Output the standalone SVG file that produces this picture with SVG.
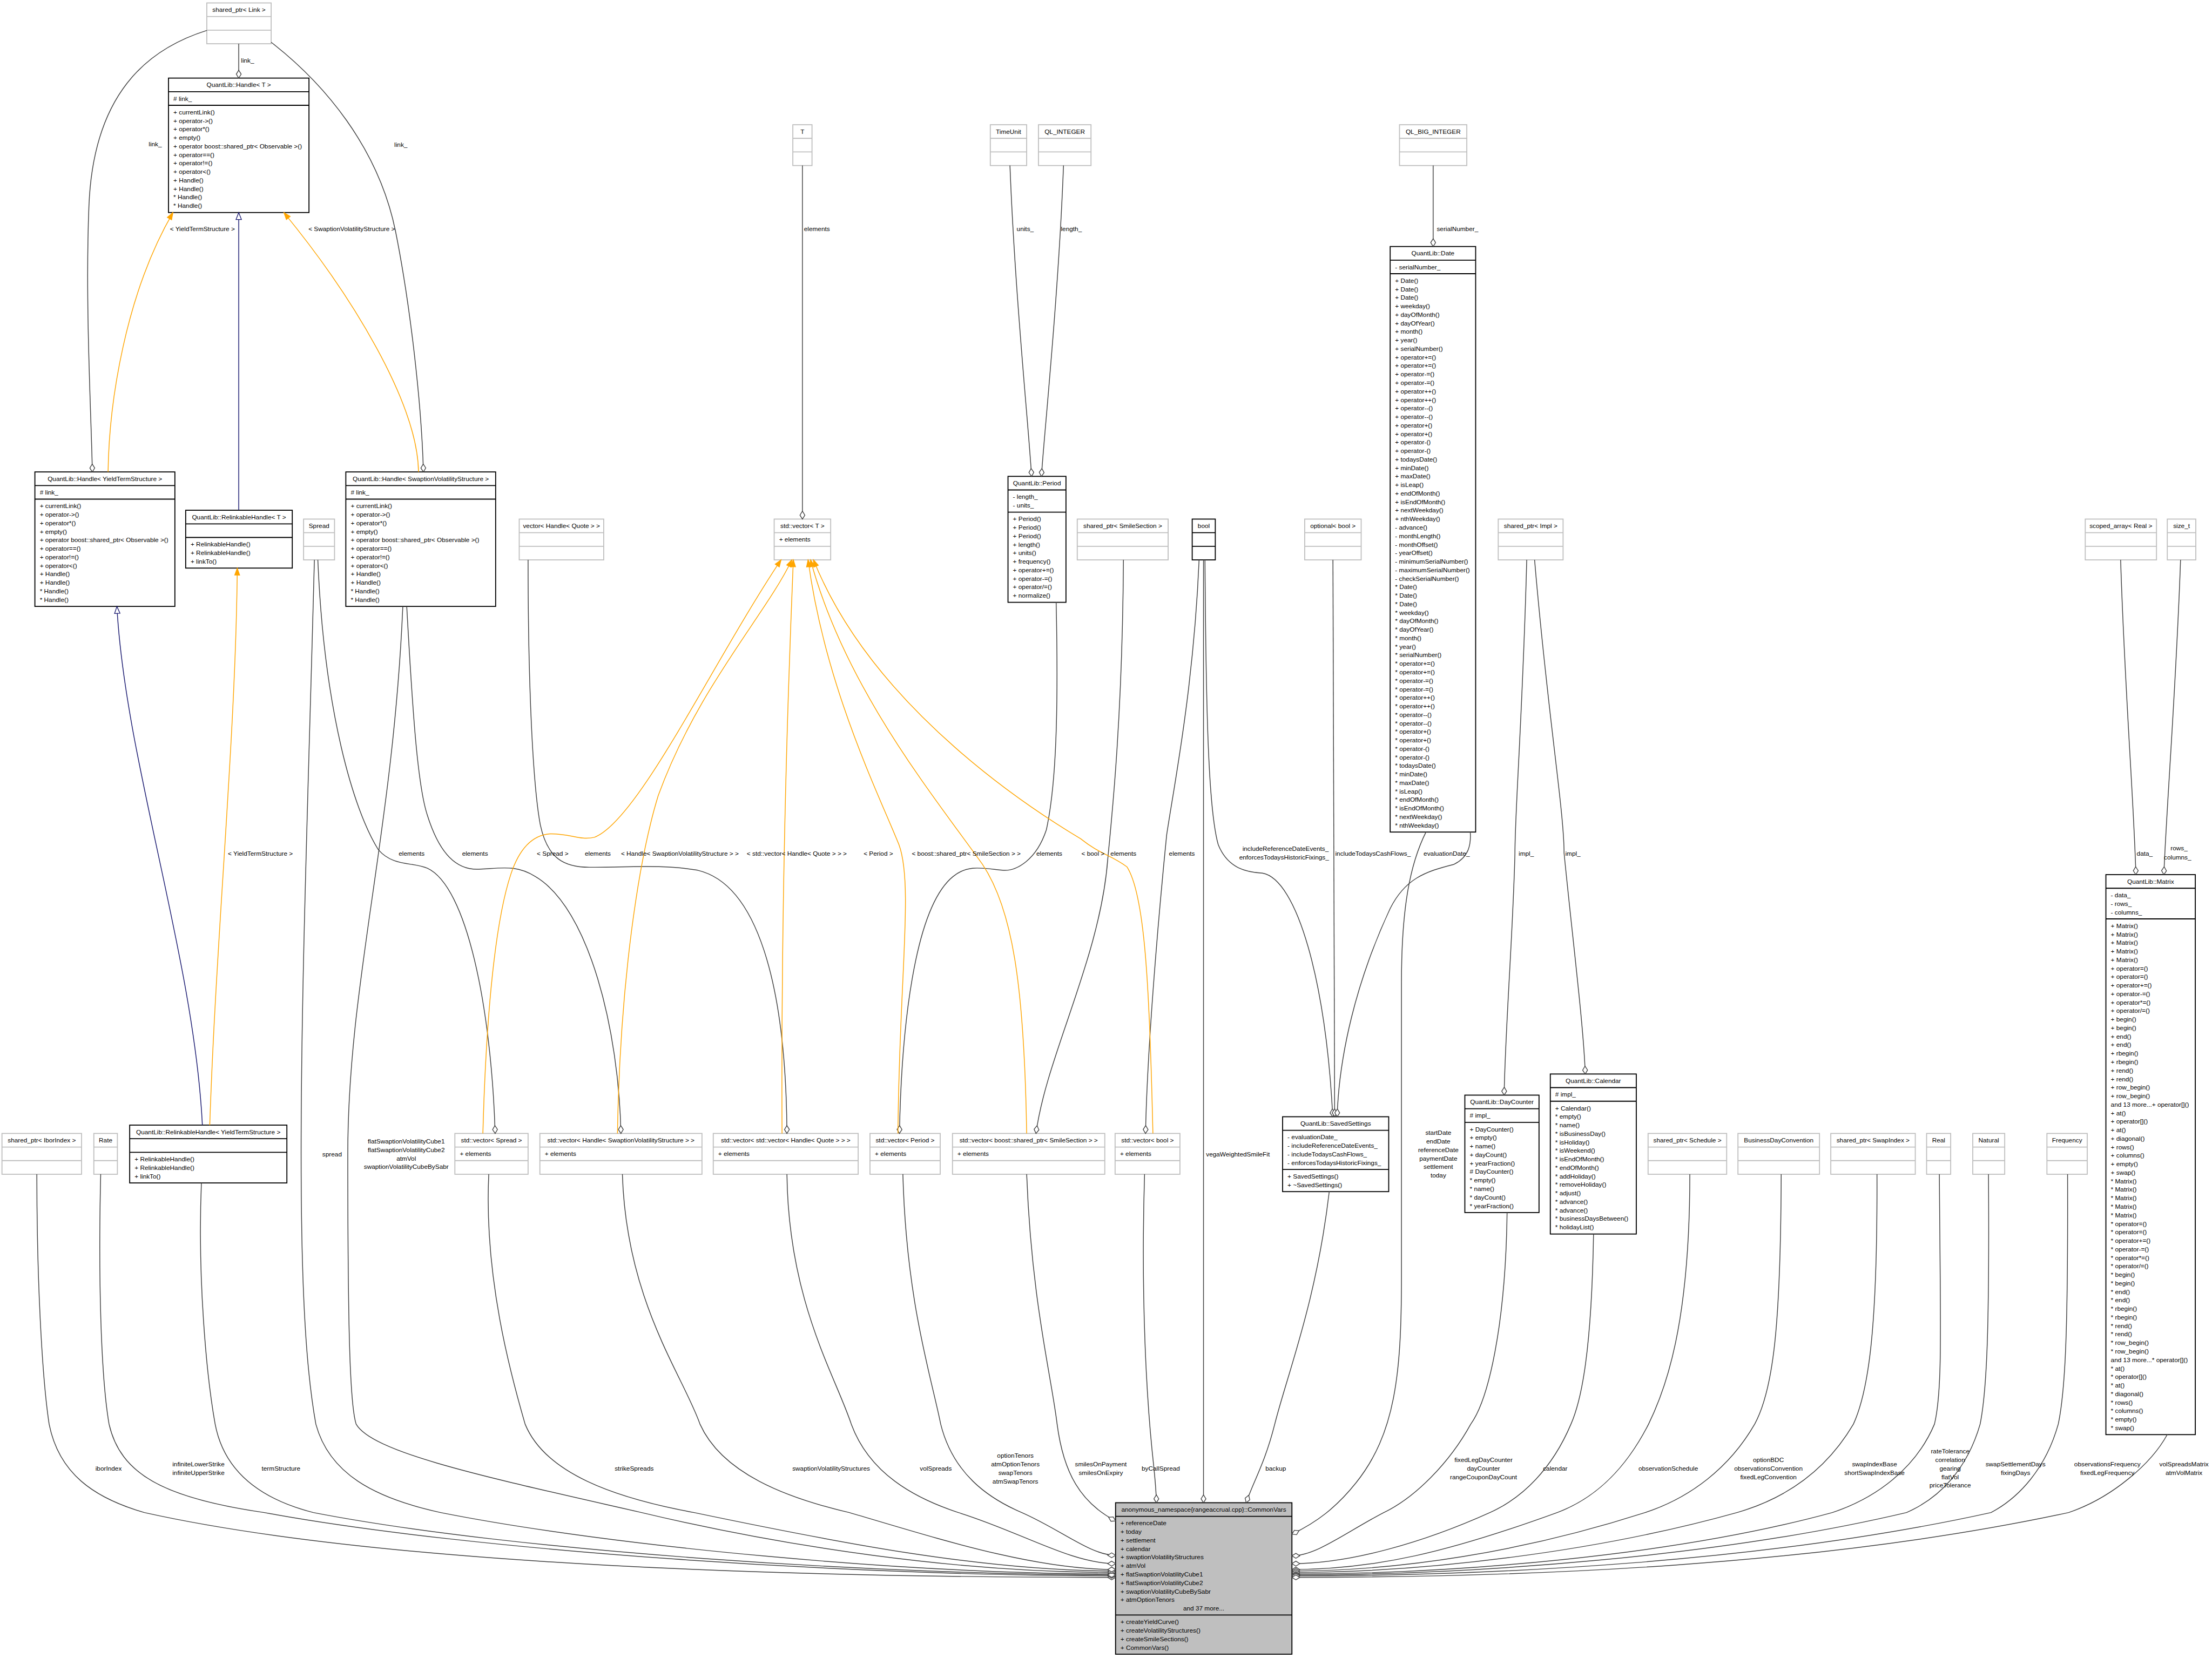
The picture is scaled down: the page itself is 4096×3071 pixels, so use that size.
<svg xmlns="http://www.w3.org/2000/svg" width="4096" height="3071" viewBox="0 0 4096 3071">
<style>
text{font-family:"Liberation Sans",Arial,sans-serif;font-size:13px;fill:#000}
.c{text-anchor:middle}
.nd{fill:#fff;stroke:#000;stroke-width:2}
.ng{fill:#fff;stroke:#bfbfbf;stroke-width:2}
.nm{fill:#bfbfbf;stroke:#000;stroke-width:2}
.sd{stroke:#000;stroke-width:2;fill:none}
.sg{stroke:#bfbfbf;stroke-width:2;fill:none}
.e{fill:none;stroke:#404040;stroke-width:1.6}
.o{fill:none;stroke:#ffa500;stroke-width:1.6}
.b{fill:none;stroke:#191970;stroke-width:1.6}
</style>
<defs>
<marker id="dia" markerUnits="userSpaceOnUse" markerWidth="20" markerHeight="14" viewBox="-18 -7 20 14" refX="0" refY="0" orient="auto" overflow="visible"><path d="M0,0 L-8,-5 L-16,0 L-8,5 Z" fill="#fff" stroke="#404040" stroke-width="1.5"/></marker>
<marker id="arr" markerUnits="userSpaceOnUse" markerWidth="18" markerHeight="14" viewBox="-16 -7 18 14" refX="0" refY="0" orient="auto" overflow="visible"><path d="M0,0 L-14,-5 L-14,5 Z" fill="#ffa500" stroke="#ffa500" stroke-width="1.5"/></marker>
<marker id="tri" markerUnits="userSpaceOnUse" markerWidth="18" markerHeight="14" viewBox="-16 -7 18 14" refX="0" refY="0" orient="auto" overflow="visible"><path d="M0,0 L-14,-5.5 L-14,5.5 Z" fill="#fff" stroke="#191970" stroke-width="1.5"/></marker>
</defs>
<rect width="4096" height="3071" fill="#fff"/>
<g transform="scale(0.909614)">
<g id="nodes">
<g id="n_link"><rect class="ng" x="421" y="6" width="131" height="83.1"/><path class="sg" d="M421,33.7h131M421,61.4h131"/><text class="c" x="486.5" y="24.5">shared_ptr&lt; Link &gt;</text></g>
<g id="n_handleT"><rect class="nd" x="343" y="159" width="286" height="273.8"/><path class="sd" d="M343,186.7h286M343,214.4h286"/><text class="c" x="486" y="177.5">QuantLib::Handle&lt; T &gt;</text><text x="353" y="205.2"># link_</text>
<text x="353" y="232.9"><tspan x="353">+ currentLink()</tspan><tspan x="353" dy="17.33">+ operator-&gt;()</tspan><tspan x="353" dy="17.33">+ operator*()</tspan><tspan x="353" dy="17.33">+ empty()</tspan><tspan x="353" dy="17.33">+ operator boost::shared_ptr&lt; Observable &gt;()</tspan><tspan x="353" dy="17.33">+ operator==()</tspan><tspan x="353" dy="17.33">+ operator!=()</tspan><tspan x="353" dy="17.33">+ operator&lt;()</tspan><tspan x="353" dy="17.33">+ Handle()</tspan><tspan x="353" dy="17.33">+ Handle()</tspan><tspan x="353" dy="17.33">* Handle()</tspan><tspan x="353" dy="17.33">* Handle()</tspan></text></g>
<g id="n_handleYTS"><rect class="nd" x="71" y="961" width="285" height="273.8"/><path class="sd" d="M71,988.7h285M71,1016.4h285"/><text class="c" x="213.5" y="979.5">QuantLib::Handle&lt; YieldTermStructure &gt;</text><text x="81" y="1007.2"># link_</text>
<text x="81" y="1034.9"><tspan x="81">+ currentLink()</tspan><tspan x="81" dy="17.33">+ operator-&gt;()</tspan><tspan x="81" dy="17.33">+ operator*()</tspan><tspan x="81" dy="17.33">+ empty()</tspan><tspan x="81" dy="17.33">+ operator boost::shared_ptr&lt; Observable &gt;()</tspan><tspan x="81" dy="17.33">+ operator==()</tspan><tspan x="81" dy="17.33">+ operator!=()</tspan><tspan x="81" dy="17.33">+ operator&lt;()</tspan><tspan x="81" dy="17.33">+ Handle()</tspan><tspan x="81" dy="17.33">+ Handle()</tspan><tspan x="81" dy="17.33">* Handle()</tspan><tspan x="81" dy="17.33">* Handle()</tspan></text></g>
<g id="n_relinkT"><rect class="nd" x="378" y="1039" width="217" height="117.8"/><path class="sd" d="M378,1066.7h217M378,1094.4h217"/><text class="c" x="486.5" y="1057.5">QuantLib::RelinkableHandle&lt; T &gt;</text>
<text x="388" y="1112.9"><tspan x="388">+ RelinkableHandle()</tspan><tspan x="388" dy="17.33">+ RelinkableHandle()</tspan><tspan x="388" dy="17.33">+ linkTo()</tspan></text></g>
<g id="n_spread"><rect class="ng" x="618" y="1057" width="63" height="83.1"/><path class="sg" d="M618,1084.7h63M618,1112.4h63"/><text class="c" x="649.5" y="1075.5">Spread</text></g>
<g id="n_handleSVS"><rect class="nd" x="704" y="961" width="305" height="273.8"/><path class="sd" d="M704,988.7h305M704,1016.4h305"/><text class="c" x="856.5" y="979.5">QuantLib::Handle&lt; SwaptionVolatilityStructure &gt;</text><text x="714" y="1007.2"># link_</text>
<text x="714" y="1034.9"><tspan x="714">+ currentLink()</tspan><tspan x="714" dy="17.33">+ operator-&gt;()</tspan><tspan x="714" dy="17.33">+ operator*()</tspan><tspan x="714" dy="17.33">+ empty()</tspan><tspan x="714" dy="17.33">+ operator boost::shared_ptr&lt; Observable &gt;()</tspan><tspan x="714" dy="17.33">+ operator==()</tspan><tspan x="714" dy="17.33">+ operator!=()</tspan><tspan x="714" dy="17.33">+ operator&lt;()</tspan><tspan x="714" dy="17.33">+ Handle()</tspan><tspan x="714" dy="17.33">+ Handle()</tspan><tspan x="714" dy="17.33">* Handle()</tspan><tspan x="714" dy="17.33">* Handle()</tspan></text></g>
<g id="n_T"><rect class="ng" x="1614" y="254" width="39" height="83.1"/><path class="sg" d="M1614,281.7h39M1614,309.4h39"/><text class="c" x="1633.5" y="272.5">T</text></g>
<g id="n_timeunit"><rect class="ng" x="2016" y="254" width="74" height="83.1"/><path class="sg" d="M2016,281.7h74M2016,309.4h74"/><text class="c" x="2053" y="272.5">TimeUnit</text></g>
<g id="n_qlint"><rect class="ng" x="2114" y="254" width="107" height="83.1"/><path class="sg" d="M2114,281.7h107M2114,309.4h107"/><text class="c" x="2167.5" y="272.5">QL_INTEGER</text></g>
<g id="n_qlbig"><rect class="ng" x="2849" y="254" width="137" height="83.1"/><path class="sg" d="M2849,281.7h137M2849,309.4h137"/><text class="c" x="2917.5" y="272.5">QL_BIG_INTEGER</text></g>
<g id="n_vecT"><rect class="ng" x="1576" y="1057" width="115" height="83.1"/><path class="sg" d="M1576,1084.7h115M1576,1112.4h115"/><text class="c" x="1633.5" y="1075.5">std::vector&lt; T &gt;</text><text x="1586" y="1103.2">+ elements</text></g>
<g id="n_period"><rect class="nd" x="2052" y="970" width="118" height="256.5"/><path class="sd" d="M2052,997.7h118M2052,1042.8h118"/><text class="c" x="2111" y="988.5">QuantLib::Period</text>
<text x="2062" y="1016.2"><tspan x="2062">- length_</tspan><tspan x="2062" dy="17.33">- units_</tspan></text>
<text x="2062" y="1061.3"><tspan x="2062">+ Period()</tspan><tspan x="2062" dy="17.33">+ Period()</tspan><tspan x="2062" dy="17.33">+ Period()</tspan><tspan x="2062" dy="17.33">+ length()</tspan><tspan x="2062" dy="17.33">+ units()</tspan><tspan x="2062" dy="17.33">+ frequency()</tspan><tspan x="2062" dy="17.33">+ operator+=()</tspan><tspan x="2062" dy="17.33">+ operator-=()</tspan><tspan x="2062" dy="17.33">+ operator/=()</tspan><tspan x="2062" dy="17.33">+ normalize()</tspan></text></g>
<g id="n_vecHQ"><rect class="ng" x="1057" y="1057" width="172" height="83.1"/><path class="sg" d="M1057,1084.7h172M1057,1112.4h172"/><text class="c" x="1143" y="1075.5">vector&lt; Handle&lt; Quote &gt; &gt;</text></g>
<g id="n_smile"><rect class="ng" x="2193" y="1057" width="185" height="83.1"/><path class="sg" d="M2193,1084.7h185M2193,1112.4h185"/><text class="c" x="2285.5" y="1075.5">shared_ptr&lt; SmileSection &gt;</text></g>
<g id="n_bool"><rect class="nd" x="2427" y="1057" width="47" height="83.1"/><path class="sd" d="M2427,1084.7h47M2427,1112.4h47"/><text class="c" x="2450.5" y="1075.5">bool</text></g>
<g id="n_optbool"><rect class="ng" x="2656" y="1057" width="115" height="83.1"/><path class="sg" d="M2656,1084.7h115M2656,1112.4h115"/><text class="c" x="2713.5" y="1075.5">optional&lt; bool &gt;</text></g>
<g id="n_date"><rect class="nd" x="2830" y="502" width="174" height="1192.3"/><path class="sd" d="M2830,529.7h174M2830,557.4h174"/><text class="c" x="2917" y="520.5">QuantLib::Date</text><text x="2840" y="548.2">- serialNumber_</text>
<text x="2840" y="575.9"><tspan x="2840">+ Date()</tspan><tspan x="2840" dy="17.33">+ Date()</tspan><tspan x="2840" dy="17.33">+ Date()</tspan><tspan x="2840" dy="17.33">+ weekday()</tspan><tspan x="2840" dy="17.33">+ dayOfMonth()</tspan><tspan x="2840" dy="17.33">+ dayOfYear()</tspan><tspan x="2840" dy="17.33">+ month()</tspan><tspan x="2840" dy="17.33">+ year()</tspan><tspan x="2840" dy="17.33">+ serialNumber()</tspan><tspan x="2840" dy="17.33">+ operator+=()</tspan><tspan x="2840" dy="17.33">+ operator+=()</tspan><tspan x="2840" dy="17.33">+ operator-=()</tspan><tspan x="2840" dy="17.33">+ operator-=()</tspan><tspan x="2840" dy="17.33">+ operator++()</tspan><tspan x="2840" dy="17.33">+ operator++()</tspan><tspan x="2840" dy="17.33">+ operator--()</tspan><tspan x="2840" dy="17.33">+ operator--()</tspan><tspan x="2840" dy="17.33">+ operator+()</tspan><tspan x="2840" dy="17.33">+ operator+()</tspan><tspan x="2840" dy="17.33">+ operator-()</tspan><tspan x="2840" dy="17.33">+ operator-()</tspan><tspan x="2840" dy="17.33">+ todaysDate()</tspan><tspan x="2840" dy="17.33">+ minDate()</tspan><tspan x="2840" dy="17.33">+ maxDate()</tspan><tspan x="2840" dy="17.33">+ isLeap()</tspan><tspan x="2840" dy="17.33">+ endOfMonth()</tspan><tspan x="2840" dy="17.33">+ isEndOfMonth()</tspan><tspan x="2840" dy="17.33">+ nextWeekday()</tspan><tspan x="2840" dy="17.33">+ nthWeekday()</tspan><tspan x="2840" dy="17.33">- advance()</tspan><tspan x="2840" dy="17.33">- monthLength()</tspan><tspan x="2840" dy="17.33">- monthOffset()</tspan><tspan x="2840" dy="17.33">- yearOffset()</tspan><tspan x="2840" dy="17.33">- minimumSerialNumber()</tspan><tspan x="2840" dy="17.33">- maximumSerialNumber()</tspan><tspan x="2840" dy="17.33">- checkSerialNumber()</tspan><tspan x="2840" dy="17.33">* Date()</tspan><tspan x="2840" dy="17.33">* Date()</tspan><tspan x="2840" dy="17.33">* Date()</tspan><tspan x="2840" dy="17.33">* weekday()</tspan><tspan x="2840" dy="17.33">* dayOfMonth()</tspan><tspan x="2840" dy="17.33">* dayOfYear()</tspan><tspan x="2840" dy="17.33">* month()</tspan><tspan x="2840" dy="17.33">* year()</tspan><tspan x="2840" dy="17.33">* serialNumber()</tspan><tspan x="2840" dy="17.33">* operator+=()</tspan><tspan x="2840" dy="17.33">* operator+=()</tspan><tspan x="2840" dy="17.33">* operator-=()</tspan><tspan x="2840" dy="17.33">* operator-=()</tspan><tspan x="2840" dy="17.33">* operator++()</tspan><tspan x="2840" dy="17.33">* operator++()</tspan><tspan x="2840" dy="17.33">* operator--()</tspan><tspan x="2840" dy="17.33">* operator--()</tspan><tspan x="2840" dy="17.33">* operator+()</tspan><tspan x="2840" dy="17.33">* operator+()</tspan><tspan x="2840" dy="17.33">* operator-()</tspan><tspan x="2840" dy="17.33">* operator-()</tspan><tspan x="2840" dy="17.33">* todaysDate()</tspan><tspan x="2840" dy="17.33">* minDate()</tspan><tspan x="2840" dy="17.33">* maxDate()</tspan><tspan x="2840" dy="17.33">* isLeap()</tspan><tspan x="2840" dy="17.33">* endOfMonth()</tspan><tspan x="2840" dy="17.33">* isEndOfMonth()</tspan><tspan x="2840" dy="17.33">* nextWeekday()</tspan><tspan x="2840" dy="17.33">* nthWeekday()</tspan></text></g>
<g id="n_impl"><rect class="ng" x="3050" y="1057" width="132" height="83.1"/><path class="sg" d="M3050,1084.7h132M3050,1112.4h132"/><text class="c" x="3116" y="1075.5">shared_ptr&lt; Impl &gt;</text></g>
<g id="n_scoped"><rect class="ng" x="4245" y="1057" width="145" height="83.1"/><path class="sg" d="M4245,1084.7h145M4245,1112.4h145"/><text class="c" x="4317.5" y="1075.5">scoped_array&lt; Real &gt;</text></g>
<g id="n_sizet"><rect class="ng" x="4412" y="1057" width="58" height="83.1"/><path class="sg" d="M4412,1084.7h58M4412,1112.4h58"/><text class="c" x="4441" y="1075.5">size_t</text></g>
<g id="n_matrix"><rect class="nd" x="4287" y="1781" width="182" height="1140.3"/><path class="sd" d="M4287,1808.7h182M4287,1871.1h182"/><text class="c" x="4378" y="1799.5">QuantLib::Matrix</text>
<text x="4297" y="1827.2"><tspan x="4297">- data_</tspan><tspan x="4297" dy="17.33">- rows_</tspan><tspan x="4297" dy="17.33">- columns_</tspan></text>
<text x="4297" y="1889.6"><tspan x="4297">+ Matrix()</tspan><tspan x="4297" dy="17.33">+ Matrix()</tspan><tspan x="4297" dy="17.33">+ Matrix()</tspan><tspan x="4297" dy="17.33">+ Matrix()</tspan><tspan x="4297" dy="17.33">+ Matrix()</tspan><tspan x="4297" dy="17.33">+ operator=()</tspan><tspan x="4297" dy="17.33">+ operator=()</tspan><tspan x="4297" dy="17.33">+ operator+=()</tspan><tspan x="4297" dy="17.33">+ operator-=()</tspan><tspan x="4297" dy="17.33">+ operator*=()</tspan><tspan x="4297" dy="17.33">+ operator/=()</tspan><tspan x="4297" dy="17.33">+ begin()</tspan><tspan x="4297" dy="17.33">+ begin()</tspan><tspan x="4297" dy="17.33">+ end()</tspan><tspan x="4297" dy="17.33">+ end()</tspan><tspan x="4297" dy="17.33">+ rbegin()</tspan><tspan x="4297" dy="17.33">+ rbegin()</tspan><tspan x="4297" dy="17.33">+ rend()</tspan><tspan x="4297" dy="17.33">+ rend()</tspan><tspan x="4297" dy="17.33">+ row_begin()</tspan><tspan x="4297" dy="17.33">+ row_begin()</tspan><tspan x="4297" dy="17.33">and 13 more...+ operator[]()</tspan><tspan x="4297" dy="17.33">+ at()</tspan><tspan x="4297" dy="17.33">+ operator[]()</tspan><tspan x="4297" dy="17.33">+ at()</tspan><tspan x="4297" dy="17.33">+ diagonal()</tspan><tspan x="4297" dy="17.33">+ rows()</tspan><tspan x="4297" dy="17.33">+ columns()</tspan><tspan x="4297" dy="17.33">+ empty()</tspan><tspan x="4297" dy="17.33">+ swap()</tspan><tspan x="4297" dy="17.33">* Matrix()</tspan><tspan x="4297" dy="17.33">* Matrix()</tspan><tspan x="4297" dy="17.33">* Matrix()</tspan><tspan x="4297" dy="17.33">* Matrix()</tspan><tspan x="4297" dy="17.33">* Matrix()</tspan><tspan x="4297" dy="17.33">* operator=()</tspan><tspan x="4297" dy="17.33">* operator=()</tspan><tspan x="4297" dy="17.33">* operator+=()</tspan><tspan x="4297" dy="17.33">* operator-=()</tspan><tspan x="4297" dy="17.33">* operator*=()</tspan><tspan x="4297" dy="17.33">* operator/=()</tspan><tspan x="4297" dy="17.33">* begin()</tspan><tspan x="4297" dy="17.33">* begin()</tspan><tspan x="4297" dy="17.33">* end()</tspan><tspan x="4297" dy="17.33">* end()</tspan><tspan x="4297" dy="17.33">* rbegin()</tspan><tspan x="4297" dy="17.33">* rbegin()</tspan><tspan x="4297" dy="17.33">* rend()</tspan><tspan x="4297" dy="17.33">* rend()</tspan><tspan x="4297" dy="17.33">* row_begin()</tspan><tspan x="4297" dy="17.33">* row_begin()</tspan><tspan x="4297" dy="17.33">and 13 more...* operator[]()</tspan><tspan x="4297" dy="17.33">* at()</tspan><tspan x="4297" dy="17.33">* operator[]()</tspan><tspan x="4297" dy="17.33">* at()</tspan><tspan x="4297" dy="17.33">* diagonal()</tspan><tspan x="4297" dy="17.33">* rows()</tspan><tspan x="4297" dy="17.33">* columns()</tspan><tspan x="4297" dy="17.33">* empty()</tspan><tspan x="4297" dy="17.33">* swap()</tspan></text></g>
<g id="n_ibor"><rect class="ng" x="4" y="2308" width="162" height="83.1"/><path class="sg" d="M4,2335.7h162M4,2363.4h162"/><text class="c" x="85" y="2326.5">shared_ptr&lt; IborIndex &gt;</text></g>
<g id="n_rate"><rect class="ng" x="191" y="2308" width="48" height="83.1"/><path class="sg" d="M191,2335.7h48M191,2363.4h48"/><text class="c" x="215" y="2326.5">Rate</text></g>
<g id="n_relinkYTS"><rect class="nd" x="264" y="2291" width="320" height="117.8"/><path class="sd" d="M264,2318.7h320M264,2346.4h320"/><text class="c" x="424" y="2309.5">QuantLib::RelinkableHandle&lt; YieldTermStructure &gt;</text>
<text x="274" y="2364.9"><tspan x="274">+ RelinkableHandle()</tspan><tspan x="274" dy="17.33">+ RelinkableHandle()</tspan><tspan x="274" dy="17.33">+ linkTo()</tspan></text></g>
<g id="n_vecSpread"><rect class="ng" x="926" y="2308" width="149" height="83.1"/><path class="sg" d="M926,2335.7h149M926,2363.4h149"/><text class="c" x="1000.5" y="2326.5">std::vector&lt; Spread &gt;</text><text x="936" y="2354.2">+ elements</text></g>
<g id="n_vecHSVS"><rect class="ng" x="1099" y="2308" width="330" height="83.1"/><path class="sg" d="M1099,2335.7h330M1099,2363.4h330"/><text class="c" x="1264" y="2326.5">std::vector&lt; Handle&lt; SwaptionVolatilityStructure &gt; &gt;</text><text x="1109" y="2354.2">+ elements</text></g>
<g id="n_vecVHQ"><rect class="ng" x="1452" y="2308" width="295" height="83.1"/><path class="sg" d="M1452,2335.7h295M1452,2363.4h295"/><text class="c" x="1599.5" y="2326.5">std::vector&lt; std::vector&lt; Handle&lt; Quote &gt; &gt; &gt;</text><text x="1462" y="2354.2">+ elements</text></g>
<g id="n_vecPeriod"><rect class="ng" x="1771" y="2308" width="143" height="83.1"/><path class="sg" d="M1771,2335.7h143M1771,2363.4h143"/><text class="c" x="1842.5" y="2326.5">std::vector&lt; Period &gt;</text><text x="1781" y="2354.2">+ elements</text></g>
<g id="n_vecSmile"><rect class="ng" x="1939" y="2308" width="310" height="83.1"/><path class="sg" d="M1939,2335.7h310M1939,2363.4h310"/><text class="c" x="2094" y="2326.5">std::vector&lt; boost::shared_ptr&lt; SmileSection &gt; &gt;</text><text x="1949" y="2354.2">+ elements</text></g>
<g id="n_vecBool"><rect class="ng" x="2270" y="2308" width="132" height="83.1"/><path class="sg" d="M2270,2335.7h132M2270,2363.4h132"/><text class="c" x="2336" y="2326.5">std::vector&lt; bool &gt;</text><text x="2280" y="2354.2">+ elements</text></g>
<g id="n_saved"><rect class="nd" x="2611" y="2274" width="216" height="152.5"/><path class="sd" d="M2611,2301.7h216M2611,2381.4h216"/><text class="c" x="2719" y="2292.5">QuantLib::SavedSettings</text>
<text x="2621" y="2320.2"><tspan x="2621">- evaluationDate_</tspan><tspan x="2621" dy="17.33">- includeReferenceDateEvents_</tspan><tspan x="2621" dy="17.33">- includeTodaysCashFlows_</tspan><tspan x="2621" dy="17.33">- enforcesTodaysHistoricFixings_</tspan></text>
<text x="2621" y="2399.9"><tspan x="2621">+ SavedSettings()</tspan><tspan x="2621" dy="17.33">+ ~SavedSettings()</tspan></text></g>
<g id="n_daycounter"><rect class="nd" x="2982" y="2230" width="151" height="239.1"/><path class="sd" d="M2982,2257.7h151M2982,2285.4h151"/><text class="c" x="3057.5" y="2248.5">QuantLib::DayCounter</text><text x="2992" y="2276.2"># impl_</text>
<text x="2992" y="2303.9"><tspan x="2992">+ DayCounter()</tspan><tspan x="2992" dy="17.33">+ empty()</tspan><tspan x="2992" dy="17.33">+ name()</tspan><tspan x="2992" dy="17.33">+ dayCount()</tspan><tspan x="2992" dy="17.33">+ yearFraction()</tspan><tspan x="2992" dy="17.33"># DayCounter()</tspan><tspan x="2992" dy="17.33">* empty()</tspan><tspan x="2992" dy="17.33">* name()</tspan><tspan x="2992" dy="17.33">* dayCount()</tspan><tspan x="2992" dy="17.33">* yearFraction()</tspan></text></g>
<g id="n_calendar"><rect class="nd" x="3156" y="2187" width="175" height="325.8"/><path class="sd" d="M3156,2214.7h175M3156,2242.4h175"/><text class="c" x="3243.5" y="2205.5">QuantLib::Calendar</text><text x="3166" y="2233.2"># impl_</text>
<text x="3166" y="2260.9"><tspan x="3166">+ Calendar()</tspan><tspan x="3166" dy="17.33">* empty()</tspan><tspan x="3166" dy="17.33">* name()</tspan><tspan x="3166" dy="17.33">* isBusinessDay()</tspan><tspan x="3166" dy="17.33">* isHoliday()</tspan><tspan x="3166" dy="17.33">* isWeekend()</tspan><tspan x="3166" dy="17.33">* isEndOfMonth()</tspan><tspan x="3166" dy="17.33">* endOfMonth()</tspan><tspan x="3166" dy="17.33">* addHoliday()</tspan><tspan x="3166" dy="17.33">* removeHoliday()</tspan><tspan x="3166" dy="17.33">* adjust()</tspan><tspan x="3166" dy="17.33">* advance()</tspan><tspan x="3166" dy="17.33">* advance()</tspan><tspan x="3166" dy="17.33">* businessDaysBetween()</tspan><tspan x="3166" dy="17.33">* holidayList()</tspan></text></g>
<g id="n_schedule"><rect class="ng" x="3355" y="2308" width="160" height="83.1"/><path class="sg" d="M3355,2335.7h160M3355,2363.4h160"/><text class="c" x="3435" y="2326.5">shared_ptr&lt; Schedule &gt;</text></g>
<g id="n_bdc"><rect class="ng" x="3538" y="2308" width="166" height="83.1"/><path class="sg" d="M3538,2335.7h166M3538,2363.4h166"/><text class="c" x="3621" y="2326.5">BusinessDayConvention</text></g>
<g id="n_swapindex"><rect class="ng" x="3727" y="2308" width="172" height="83.1"/><path class="sg" d="M3727,2335.7h172M3727,2363.4h172"/><text class="c" x="3813" y="2326.5">shared_ptr&lt; SwapIndex &gt;</text></g>
<g id="n_real"><rect class="ng" x="3922" y="2308" width="49" height="83.1"/><path class="sg" d="M3922,2335.7h49M3922,2363.4h49"/><text class="c" x="3946.5" y="2326.5">Real</text></g>
<g id="n_natural"><rect class="ng" x="4016" y="2308" width="65" height="83.1"/><path class="sg" d="M4016,2335.7h65M4016,2363.4h65"/><text class="c" x="4048.5" y="2326.5">Natural</text></g>
<g id="n_frequency"><rect class="ng" x="4167" y="2308" width="82" height="83.1"/><path class="sg" d="M4167,2335.7h82M4167,2363.4h82"/><text class="c" x="4208" y="2326.5">Frequency</text></g>
<g id="n_commonvars"><rect class="nm" x="2271" y="3060" width="359" height="308.4"/><path class="sd" d="M2271,3087.7h359M2271,3288.7h359"/><text class="c" x="2450.5" y="3078.5">anonymous_namespace{rangeaccrual.cpp}::CommonVars</text>
<text x="2281" y="3106.2"><tspan x="2281">+ referenceDate</tspan><tspan x="2281" dy="17.33">+ today</tspan><tspan x="2281" dy="17.33">+ settlement</tspan><tspan x="2281" dy="17.33">+ calendar</tspan><tspan x="2281" dy="17.33">+ swaptionVolatilityStructures</tspan><tspan x="2281" dy="17.33">+ atmVol</tspan><tspan x="2281" dy="17.33">+ flatSwaptionVolatilityCube1</tspan><tspan x="2281" dy="17.33">+ flatSwaptionVolatilityCube2</tspan><tspan x="2281" dy="17.33">+ swaptionVolatilityCubeBySabr</tspan><tspan x="2281" dy="17.33">+ atmOptionTenors</tspan></text>
<text class="c" x="2450.5" y="3279.5">and 37 more...</text>
<text x="2281" y="3307.2"><tspan x="2281">+ createYieldCurve()</tspan><tspan x="2281" dy="17.33">+ createVolatilityStructures()</tspan><tspan x="2281" dy="17.33">+ createSmileSections()</tspan><tspan x="2281" dy="17.33">+ CommonVars()</tspan></text></g>
</g>
<g id="connectors">
<path class="e" marker-end="url(#dia)" d="M486,89 L486,159"/>
<path class="e" marker-end="url(#dia)" d="M421,62 C300,100 190,190 181,420 C173,620 186,850 188,961"/>
<path class="e" marker-end="url(#dia)" d="M552,86 C660,170 770,300 805,470 C835,620 858,820 862,961"/>
<path class="o" marker-end="url(#arr)" d="M220,961 C222,820 255,600 352,433"/>
<path class="o" marker-end="url(#arr)" d="M852,961 C850,820 715,600 578,433"/>
<path class="b" marker-end="url(#tri)" d="M486,1039 L486,433"/>
<path class="b" marker-end="url(#tri)" d="M412,2291 C395,1950 255,1550 238,1235"/>
<path class="o" marker-end="url(#arr)" d="M427,2291 C440,1900 480,1500 483,1157"/>
<path class="e" marker-end="url(#dia)" d="M1633.5,337 L1633.5,1057"/>
<path class="e" marker-end="url(#dia)" d="M2056,337 C2066,600 2095,880 2100,970"/>
<path class="e" marker-end="url(#dia)" d="M2165,337 C2155,600 2126,880 2120,970"/>
<path class="e" marker-end="url(#dia)" d="M2917.5,337 L2917.5,502"/>
<path class="e" marker-end="url(#dia)" d="M647,1140 C660,1450 720,1650 770,1730 C800,1765 840,1755 870,1768 C950,1805 1000,2050 1008,2308"/>
<path class="e" marker-end="url(#dia)" d="M640,1140 C628,1600 613,2000 613,2350 C613,2650 625,2800 643,2900 C670,3000 760,3050 897,3080 C1250,3150 1850,3205 2271,3205"/>
<path class="e" marker-end="url(#dia)" d="M828,1235 C840,1450 850,1600 870,1660 C895,1740 930,1772 975,1770 C1020,1768 1050,1760 1090,1785 C1200,1850 1260,2100 1264,2308"/>
<path class="e" marker-end="url(#dia)" d="M820,1235 C800,1700 708,2000 708,2350 C708,2700 712,2860 725,2900 C760,2960 1000,3010 1306,3080 C1600,3150 1950,3202 2271,3202"/>
<path class="e" marker-end="url(#dia)" d="M1075,1140 C1075,1400 1085,1600 1100,1680 C1115,1750 1150,1766 1200,1766 C1280,1766 1350,1760 1420,1772 C1540,1800 1600,2000 1602,2308"/>
<path class="e" marker-end="url(#dia)" d="M2150,1226 C2155,1450 2150,1600 2130,1690 C2110,1750 2070,1775 2040,1772 C2000,1768 1970,1760 1940,1785 C1860,1850 1835,2100 1831,2308"/>
<path class="e" marker-end="url(#dia)" d="M2287,1140 C2285,1450 2265,1650 2255,1750 C2240,1950 2130,2150 2109,2308"/>
<path class="e" marker-end="url(#dia)" d="M2441,1140 C2430,1400 2390,1600 2375,1700 C2355,1900 2335,2150 2332,2308"/>
<path class="e" marker-end="url(#dia)" d="M2453,1140 C2455,1450 2460,1650 2480,1720 C2500,1770 2540,1776 2570,1778 C2640,1790 2700,2000 2713,2274"/>
<path class="e" marker-end="url(#dia)" d="M2450,1140 C2449,2000 2449,2600 2450,3060"/>
<path class="e" marker-end="url(#dia)" d="M2713.5,1140 C2714,1600 2716,2000 2717,2274"/>
<path class="e" marker-end="url(#dia)" d="M2993,1694 C2995,1720 2990,1745 2960,1760 C2900,1775 2860,1790 2830,1850 C2760,2000 2726,2150 2722,2274"/>
<path class="e" marker-end="url(#dia)" d="M2903,1694 C2870,1760 2853,1850 2853,2000 L2853,2600 C2853,2800 2840,2920 2760,3020 C2720,3070 2680,3100 2630,3124"/>
<path class="e" marker-end="url(#dia)" d="M3108,1140 C3100,1450 3084,1650 3084,1737 C3080,1900 3064,2100 3062,2230"/>
<path class="e" marker-end="url(#dia)" d="M3124,1140 C3150,1450 3184,1650 3184,1737 C3200,1900 3225,2100 3227,2187"/>
<path class="e" marker-end="url(#dia)" d="M4317,1140 C4325,1400 4345,1650 4348,1781"/>
<path class="e" marker-end="url(#dia)" d="M4439,1140 C4430,1400 4410,1650 4405,1781"/>
<path class="e" marker-end="url(#dia)" d="M75,2391 C75,2600 85,2800 100,2900 C120,3000 190,3050 294,3080 C788,3190 1654,3212 2271,3212"/>
<path class="e" marker-end="url(#dia)" d="M205,2391 C200,2600 205,2800 222,2900 C245,3000 330,3050 538,3080 C970,3160 1750,3209 2271,3209"/>
<path class="e" marker-end="url(#dia)" d="M410,2409 C402,2600 420,2800 438,2900 C455,2990 520,3050 638,3080 C1050,3160 1800,3207 2271,3207"/>
<path class="e" marker-end="url(#dia)" d="M995,2391 C985,2600 1040,2800 1069,2900 C1110,3000 1250,3050 1413,3080 C1700,3140 2000,3199 2271,3199"/>
<path class="e" marker-end="url(#dia)" d="M1267,2391 C1275,2650 1390,2800 1425,2900 C1470,3000 1600,3050 1729,3080 C1900,3130 2100,3196 2271,3196"/>
<path class="e" marker-end="url(#dia)" d="M1602,2391 C1605,2650 1700,2800 1733,2900 C1770,3000 1860,3050 1951,3080 C2080,3120 2180,3184 2271,3184"/>
<path class="e" marker-end="url(#dia)" d="M1838,2391 C1845,2650 1895,2800 1915,2900 C1940,3000 2010,3050 2080,3080 C2160,3115 2220,3167 2271,3167"/>
<path class="e" marker-end="url(#dia)" d="M2090,2391 C2100,2650 2140,2800 2152,2900 C2165,3000 2200,3060 2271,3097"/>
<path class="e" marker-end="url(#dia)" d="M2330,2391 C2322,2650 2335,2850 2345,2950 C2350,3000 2354,3030 2354,3060"/>
<path class="e" marker-end="url(#dia)" d="M2706,2426 C2680,2650 2620,2800 2595,2900 C2575,2980 2550,3020 2537,3060"/>
<path class="e" marker-end="url(#dia)" d="M3068,2469 C3065,2700 3030,2850 2994,2900 C2950,2980 2880,3050 2817,3080 C2740,3120 2680,3168 2630,3168"/>
<path class="e" marker-end="url(#dia)" d="M3244,2513 C3240,2750 3220,2850 3198,2900 C3160,2990 3100,3050 3033,3080 C2900,3140 2750,3184 2630,3184"/>
<path class="e" marker-end="url(#dia)" d="M3440,2391 C3440,2700 3390,2830 3356,2900 C3310,2990 3250,3050 3170,3080 C2950,3160 2800,3196 2630,3196"/>
<path class="e" marker-end="url(#dia)" d="M3626,2391 C3625,2700 3610,2830 3572,2900 C3520,2990 3440,3050 3349,3080 C3100,3160 2850,3199 2630,3199"/>
<path class="e" marker-end="url(#dia)" d="M3821,2391 C3822,2700 3805,2830 3773,2900 C3720,2990 3640,3050 3536,3080 C3250,3160 2900,3202 2630,3202"/>
<path class="e" marker-end="url(#dia)" d="M3948,2391 C3950,2700 3955,2830 3938,2900 C3900,2990 3820,3050 3730,3080 C3400,3170 2950,3205 2630,3205"/>
<path class="e" marker-end="url(#dia)" d="M4048,2391 C4050,2700 4045,2830 4031,2900 C4005,2990 3950,3050 3881,3080 C3500,3170 3000,3207 2630,3207"/>
<path class="e" marker-end="url(#dia)" d="M4209,2391 C4210,2700 4205,2830 4190,2900 C4165,2990 4110,3050 4053,3080 C3600,3180 3050,3209 2630,3209"/>
<path class="e" marker-end="url(#dia)" d="M4412,2921 C4380,2980 4300,3050 4211,3080 C3700,3190 3100,3212 2630,3212"/>
<path class="o" marker-end="url(#arr)" d="M983,2308 C990,2050 1010,1870 1040,1780 C1060,1720 1090,1700 1120,1698 C1160,1697 1180,1712 1210,1705 C1300,1670 1450,1350 1590,1140"/>
<path class="o" marker-end="url(#arr)" d="M1257,2308 C1262,2000 1300,1750 1340,1620 C1420,1400 1560,1250 1612,1140"/>
<path class="o" marker-end="url(#arr)" d="M1592,2308 C1590,1900 1600,1500 1615,1140"/>
<path class="o" marker-end="url(#arr)" d="M1828,2308 C1830,2000 1860,1800 1830,1720 C1790,1620 1680,1400 1645,1140"/>
<path class="o" marker-end="url(#arr)" d="M2090,2308 C2085,2000 2060,1850 2000,1760 C1900,1620 1720,1400 1650,1140"/>
<path class="o" marker-end="url(#arr)" d="M2347,2308 C2340,2000 2330,1820 2294,1765 C2260,1740 2240,1740 2200,1708 C2120,1660 1780,1450 1656,1140"/>
<g id="labels">
<text class="c" x="504" y="127">link_</text>
<text class="c" x="316" y="298">link_</text>
<text class="c" x="816" y="299">link_</text>
<text class="c" x="412" y="471">&lt; YieldTermStructure &gt;</text>
<text class="c" x="716" y="471">&lt; SwaptionVolatilityStructure &gt;</text>
<text class="c" x="1663" y="471">elements</text>
<text class="c" x="2087" y="471">units_</text>
<text class="c" x="2181" y="471">length_</text>
<text class="c" x="2967" y="471">serialNumber_</text>
<text class="c" x="530" y="1742">&lt; YieldTermStructure &gt;</text>
<text class="c" x="838" y="1742">elements</text>
<text class="c" x="967" y="1742">elements</text>
<text class="c" x="1125" y="1742">&lt; Spread &gt;</text>
<text class="c" x="1217" y="1742">elements</text>
<text class="c" x="1384" y="1742">&lt; Handle&lt; SwaptionVolatilityStructure &gt; &gt;</text>
<text class="c" x="1622" y="1742">&lt; std::vector&lt; Handle&lt; Quote &gt; &gt; &gt;</text>
<text class="c" x="1788" y="1742">&lt; Period &gt;</text>
<text class="c" x="1967" y="1742">&lt; boost::shared_ptr&lt; SmileSection &gt; &gt;</text>
<text class="c" x="2136" y="1742">elements</text>
<text class="c" x="2225" y="1742">&lt; bool &gt;</text>
<text class="c" x="2287" y="1742">elements</text>
<text class="c" x="2406" y="1742">elements</text>
<text class="c" x="2617" y="1733">includeReferenceDateEvents_</text>
<text class="c" x="2614" y="1750">enforcesTodaysHistoricFixings_</text>
<text class="c" x="2795" y="1742">includeTodaysCashFlows_</text>
<text class="c" x="2945" y="1742">evaluationDate_</text>
<text class="c" x="3107" y="1742">impl_</text>
<text class="c" x="3202" y="1742">impl_</text>
<text class="c" x="4366" y="1743">data_</text>
<text class="c" x="4436" y="1732">rows_</text>
<text class="c" x="4433" y="1750">columns_</text>
<text class="c" x="676" y="2355">spread</text>
<text class="c" x="827" y="2328.6"><tspan x="827">flatSwaptionVolatilityCube1</tspan><tspan x="827" dy="17.33">flatSwaptionVolatilityCube2</tspan><tspan x="827" dy="17.33">atmVol</tspan><tspan x="827" dy="17.33">swaptionVolatilityCubeBySabr</tspan></text>
<text class="c" x="2520" y="2355">vegaWeightedSmileFit</text>
<text class="c" x="2928" y="2311.3"><tspan x="2928">startDate</tspan><tspan x="2928" dy="17.33">endDate</tspan><tspan x="2928" dy="17.33">referenceDate</tspan><tspan x="2928" dy="17.33">paymentDate</tspan><tspan x="2928" dy="17.33">settlement</tspan><tspan x="2928" dy="17.33">today</tspan></text>
<text class="c" x="221" y="2994.6">iborIndex</text>
<text class="c" x="404" y="2985.9"><tspan x="404">infiniteLowerStrike</tspan><tspan x="404" dy="17.33">infiniteUpperStrike</tspan></text>
<text class="c" x="572" y="2994.6">termStructure</text>
<text class="c" x="1291" y="2994.6">strikeSpreads</text>
<text class="c" x="1692" y="2994.6">swaptionVolatilityStructures</text>
<text class="c" x="1905" y="2994.6">volSpreads</text>
<text class="c" x="2067" y="2968.6"><tspan x="2067">optionTenors</tspan><tspan x="2067" dy="17.33">atmOptionTenors</tspan><tspan x="2067" dy="17.33">swapTenors</tspan><tspan x="2067" dy="17.33">atmSwapTenors</tspan></text>
<text class="c" x="2241" y="2985.9"><tspan x="2241">smilesOnPayment</tspan><tspan x="2241" dy="17.33">smilesOnExpiry</tspan></text>
<text class="c" x="2363" y="2994.6">byCallSpread</text>
<text class="c" x="2597" y="2994.6">backup</text>
<text class="c" x="3020" y="2977.3"><tspan x="3020">fixedLegDayCounter</tspan><tspan x="3020" dy="17.33">dayCounter</tspan><tspan x="3020" dy="17.33">rangeCouponDayCount</tspan></text>
<text class="c" x="3166" y="2994.6">calendar</text>
<text class="c" x="3396" y="2994.6">observationSchedule</text>
<text class="c" x="3600" y="2977.3"><tspan x="3600">optionBDC</tspan><tspan x="3600" dy="17.33">observationsConvention</tspan><tspan x="3600" dy="17.33">fixedLegConvention</tspan></text>
<text class="c" x="3816" y="2985.9"><tspan x="3816">swapIndexBase</tspan><tspan x="3816" dy="17.33">shortSwapIndexBase</tspan></text>
<text class="c" x="3970" y="2959.9"><tspan x="3970">rateTolerance</tspan><tspan x="3970" dy="17.33">correlation</tspan><tspan x="3970" dy="17.33">gearing</tspan><tspan x="3970" dy="17.33">flatVol</tspan><tspan x="3970" dy="17.33">priceTolerance</tspan></text>
<text class="c" x="4103" y="2985.9"><tspan x="4103">swapSettlementDays</tspan><tspan x="4103" dy="17.33">fixingDays</tspan></text>
<text class="c" x="4290" y="2985.9"><tspan x="4290">observationsFrequency</tspan><tspan x="4290" dy="17.33">fixedLegFrequency</tspan></text>
<text class="c" x="4446" y="2985.9"><tspan x="4446">volSpreadsMatrix</tspan><tspan x="4446" dy="17.33">atmVolMatrix</tspan></text>
</g>
</g>
</g>
</svg>
